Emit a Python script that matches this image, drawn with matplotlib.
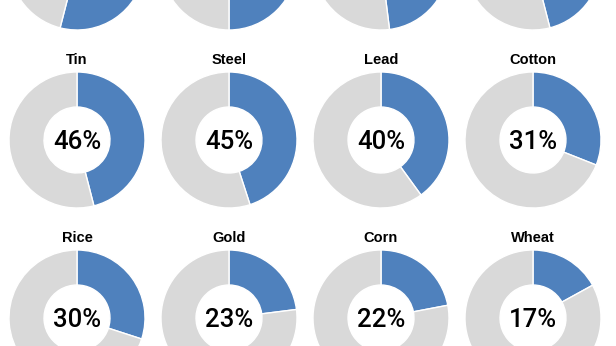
import matplotlib.pyplot as plt

# Commodity shares (top row is cropped; its titles are not visible)
names = ['', '', '', '',
         'Tin', 'Steel', 'Lead', 'Cotton',
         'Rice', 'Gold', 'Corn', 'Wheat']
shares = [54, 50, 48, 46,
          46, 45, 40, 31,
          30, 23, 22, 17]

blue = '#4f81bd'
grey = '#d9d9d9'

W, H = 616, 346
fig = plt.figure(figsize=(W / 100, H / 100), dpi=100)

# grid geometry in pixels (origin top-left)
col_x = [77, 229, 381, 533]
row_y = [-38, 140, 318]
R = 68

for i, (name, val) in enumerate(zip(names, shares)):
    cx = col_x[i % 4]
    cy = row_y[i // 4]
    ax = fig.add_axes([(cx - R) / W, 1 - (cy + R) / H, 2 * R / W, 2 * R / H])
    ax.pie([val, 100 - val], colors=[blue, grey], startangle=90,
           counterclock=False, radius=1,
           wedgeprops=dict(width=0.515, edgecolor='white', linewidth=1))
    ax.set_xlim(-1, 1)
    ax.set_ylim(-1, 1)
    ax.set_aspect('equal')
    ax.axis('off')
    if cy < 0:
        continue  # centre label and title fall outside the crop
    ax.text(0, -0.03, f'{val}%', ha='center', va='center', fontsize=18.5,
            family='Roboto', fontweight='medium', color='black')
    ax.text(0, 1.18, name, ha='center', va='center', fontsize=10.5,
            fontweight='bold', family='Liberation Sans', color='black',
            clip_on=False)

fig.savefig('out.png', dpi=100)
